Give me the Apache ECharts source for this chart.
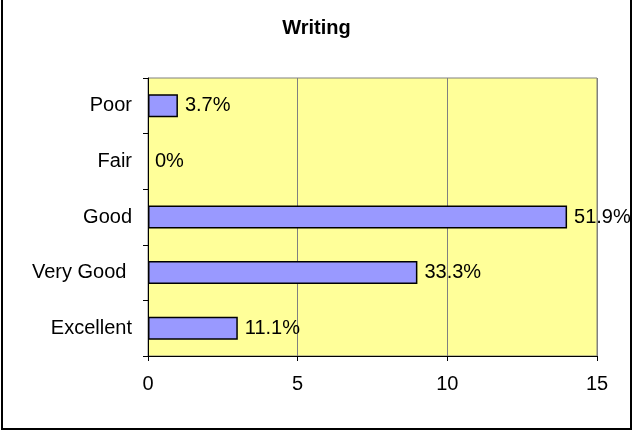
<!DOCTYPE html>
<html>
<head>
<meta charset="utf-8">
<script src="https://cdn.jsdelivr.net/npm/echarts@6/dist/echarts.min.js"></script>
<style>
html,body{margin:0;padding:0;background:#fff;}
#c{width:633px;height:433px;}
</style>
</head>
<body>
<div id="c"></div>
<script>
var title = 'Writing';
var categories = ['Excellent', 'Very Good ', 'Good', 'Fair', 'Poor'];
var counts = [3, 9, 14, 0, 1];
var percentLabels = ['11.1%', '33.3%', '51.9%', '0%', '3.7%'];
var xTicks = [0, 5, 10, 15];

var FONT = 'Liberation Sans, Arial, sans-serif';
var chart = echarts.init(document.getElementById('c'), null, {renderer: 'canvas'});
chart.setOption({
  animation: false,
  backgroundColor: '#ffffff',
  title: {
    text: title, left: 'center', top: 13,
    textStyle: {fontFamily: FONT, fontSize: 20, fontWeight: 'bold', color: '#000'}
  },
  grid: {
    left: 148, right: 36, top: 78, bottom: 77,
    show: true, backgroundColor: '#FFFF99', borderColor: '#808080', borderWidth: 1
  },
  xAxis: {
    type: 'value', min: xTicks[0], max: xTicks[xTicks.length - 1], interval: 5,
    axisLine: {show: true, lineStyle: {color: '#000', width: 1}},
    axisTick: {show: true, length: 5, lineStyle: {color: '#000'}},
    axisLabel: {margin: 18, fontFamily: FONT, fontSize: 20, color: '#000'},
    splitLine: {show: true, lineStyle: {color: '#808080', width: 1}}
  },
  yAxis: {
    type: 'category', data: categories,
    axisLine: {show: true, lineStyle: {color: '#000', width: 1}},
    axisTick: {show: true, length: 5, lineStyle: {color: '#000'}},
    axisLabel: {margin: 16, fontFamily: FONT, fontSize: 20, color: '#000'},
    splitLine: {show: false}
  },
  series: [{
    type: 'bar',
    data: counts.map(function (v) {
      return v === 0 ? {value: v, itemStyle: {borderWidth: 0}} : v;
    }),
    barWidth: 23,
    itemStyle: {color: '#9999FF', borderColor: '#000', borderWidth: 1.5},
    label: {
      show: true, position: 'right', distance: 7,
      fontFamily: FONT, fontSize: 20, color: '#000',
      formatter: function (p) { return percentLabels[p.dataIndex]; }
    }
  }],
  graphic: [{
    type: 'rect', silent: true, z: 100,
    shape: {x: 2, y: -1, width: 629, height: 430},
    style: {fill: 'none', stroke: '#000', lineWidth: 2}
  }]
});
</script>
</body>
</html>
